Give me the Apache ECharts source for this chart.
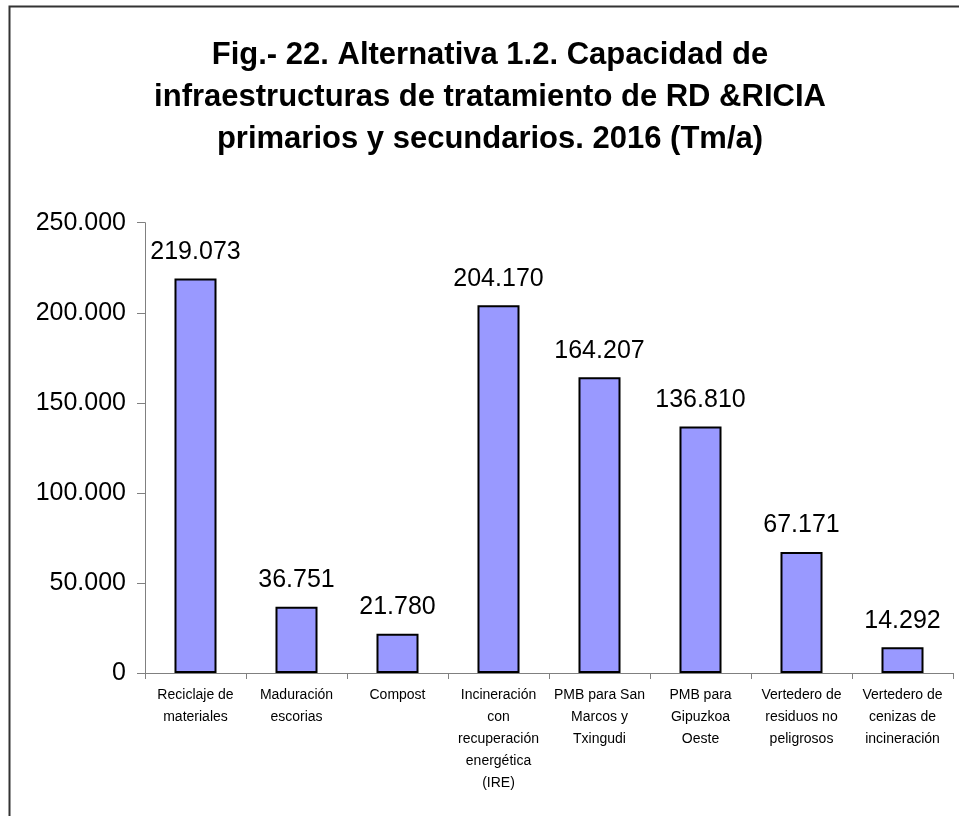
<!DOCTYPE html>
<html>
<head>
<meta charset="utf-8">
<script src="https://cdn.jsdelivr.net/npm/echarts@6/dist/echarts.min.js"></script>
<style>html,body{margin:0;padding:0;background:#fff}#c{width:959px;height:816px}</style>
</head>
<body>
<div id="c"></div>
<script>
const titleText = "Fig.- 22. Alternativa 1.2. Capacidad de\ninfraestructuras de tratamiento de RD &RICIA\nprimarios y secundarios. 2016 (Tm/a)";
const categories = [
  "Reciclaje de\nmateriales",
  "Maduración\nescorias",
  "Compost",
  "Incineración\ncon\nrecuperación\nenergética\n(IRE)",
  "PMB para San\nMarcos y\nTxingudi",
  "PMB para\nGipuzkoa\nOeste",
  "Vertedero de\nresiduos no\npeligrosos",
  "Vertedero de\ncenizas de\nincineración"
];
const values = [219073, 36751, 21780, 204170, 164207, 136810, 67171, 14292];
const yMin = 0, yMax = 250000, yStep = 50000;

function fmt(v){
  return String(Math.round(v)).replace(/\B(?=(\d{3})+(?!\d))/g, ".");
}

const chart = echarts.init(document.getElementById('c'));
chart.setOption({
  backgroundColor: '#fff',
  animation: false,
  graphic: [{
    type: 'rect', left: 7, top: 4, shape: {x: 0, y: 0, width: 1000, height: 900},
    style: {fill: 'none', stroke: '#333', lineWidth: 2}, z: -1
  }],
  title: {
    text: titleText, left: 485, top: 29, textAlign: 'center',
    textStyle: {fontFamily: 'Liberation Sans, Arial', fontWeight: 'bold', fontSize: 31, lineHeight: 42, color: '#000'}
  },
  grid: {left: 145, right: 6, top: 222.7, bottom: 143, containLabel: false},
  xAxis: {
    type: 'category', data: categories,
    axisLine: {lineStyle: {color: '#808080', width: 1}},
    axisTick: {show: true, inside: false, length: 6, alignWithLabel: false, lineStyle: {color: '#808080'}},
    axisLabel: {interval: 0, margin: 11, fontFamily: 'Liberation Sans, Arial', fontSize: 14, lineHeight: 22, color: '#000'}
  },
  yAxis: {
    type: 'value', min: yMin, max: yMax, interval: yStep,
    splitLine: {show: false},
    axisLine: {show: true, lineStyle: {color: '#808080', width: 1}},
    axisTick: {show: true, inside: false, length: 8, lineStyle: {color: '#808080'}},
    axisLabel: {margin: 19, fontFamily: 'Liberation Sans, Arial', fontSize: 25, color: '#000', formatter: fmt}
  },
  series: [{
    type: 'bar', data: values, barWidth: '41.6%',
    itemStyle: {color: '#9999FF', borderColor: '#000', borderWidth: 2},
    label: {show: true, position: 'top', distance: 14, fontFamily: 'Liberation Sans, Arial', fontSize: 25, color: '#000', formatter: p => fmt(p.value)}
  }]
});
</script>
</body>
</html>
